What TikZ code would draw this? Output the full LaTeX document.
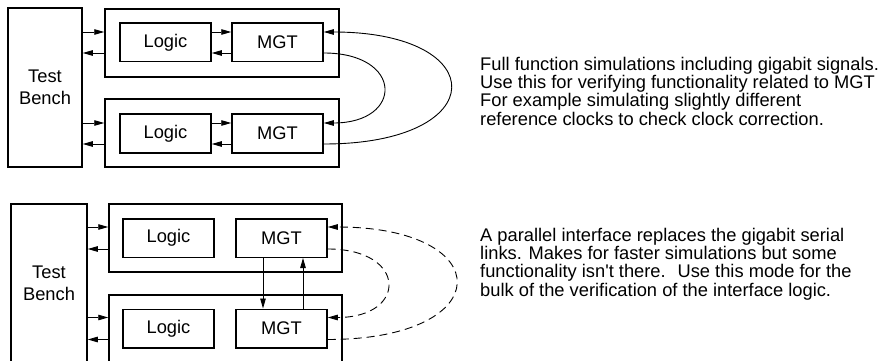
\documentclass[tikz,border=0pt]{standalone}
\usepackage{fontspec}
\setmainfont{Liberation Sans}
\usetikzlibrary{arrows.meta}

\tikzset{
  box/.style={draw, line width=1.5pt, minimum width=91pt, minimum height=38.5pt, inner sep=0pt},
  frame/.style={draw, line width=1.5pt, minimum width=234pt, minimum height=68pt, inner sep=0pt},
  bench/.style={draw, line width=1.5pt, minimum width=74pt, minimum height=159pt, inner sep=0pt,
    align=center, font=\fontsize{18.3}{22.5}\selectfont},
  sig/.style={line width=0.9pt, -{Triangle[length=10pt,width=5.5pt]}},
  link/.style={sig, dash pattern=on 8pt off 5pt},
  note/.style={anchor=base west, align=left, inner sep=0pt}
}

\begin{document}
\begin{tikzpicture}[x=1pt, y=-1pt, font=\fontsize{18.3}{18.1}\selectfont]
\useasboundingbox (0,0) rectangle (879,361);
\clip (0,0) rectangle (879,361);

% full gigabit simulation
\node[bench] (tb1) at (45,87.5) {Test\\Bench};
\node[frame] (top1) at (222,43) {};
\node[frame] (bot1) at (222,133) {};
\node[box] (logic1a) at (165.5,42.5) {Logic};
\node[box] (mgt1a) at (277.5,42.5) {MGT};
\node[box] (logic1b) at (165.5,133.5) {Logic};
\node[box] (mgt1b) at (277.5,133.5) {MGT};

\foreach \f/\l/\m in {top1/logic1a/mgt1a, bot1/logic1b/mgt1b} {
  \draw[sig] ([yshift=10.5pt]tb1.east |- \l) -- ([yshift=10.5pt]\f.west |- \l);
  \draw[sig] ([yshift=-10.5pt]\f.west |- \l) -- ([yshift=-10.5pt]tb1.east |- \l);
  \draw[sig] ([yshift=10.5pt]\l.east) -- ([yshift=10.5pt]\m.west);
  \draw[sig] ([yshift=-10.5pt]\m.west) -- ([yshift=-10.5pt]\l.east);
}

\draw[sig] ([yshift=-10.5pt]mgt1b.east) .. controls +(169,0) and +(169,0) .. ([yshift=10.5pt]mgt1a.east);
\draw[sig] ([yshift=-10.5pt]mgt1a.east) .. controls +(80,0) and +(80,0) .. ([yshift=10.5pt]mgt1b.east);

\node[note] (txt1) at (480,125) {Full function simulations including gigabit signals.\\
  Use this for verifying functionality related to MGT\\
  For example simulating slightly different\\
  reference clocks to check clock correction.};

% parallel interface
\node[bench, minimum width=76pt] (tb2) at (49,283.5) {Test\\Bench};
\node[frame, minimum width=233pt] (top2) at (225.5,238) {};
\node[frame, minimum width=233pt] (bot2) at (225.5,329) {};
\node[box] (logic2a) at (168.5,238) {Logic};
\node[box] (mgt2a) at (281.5,238) {MGT};
\node[box] (logic2b) at (168.5,328.5) {Logic};
\node[box] (mgt2b) at (281.5,328.5) {MGT};

\foreach \f/\l in {top2/logic2a, bot2/logic2b} {
  \draw[sig] ([yshift=11pt]tb2.east |- \l) -- ([yshift=11pt]\f.west |- \l);
  \draw[sig] ([yshift=-11pt]\f.west |- \l) -- ([yshift=-11pt]tb2.east |- \l);
}

\draw[sig] ([xshift=-18.5pt]mgt2a.south) -- ([xshift=-18.5pt]mgt2b.north);
\draw[sig] ([xshift=21.5pt]mgt2b.north) -- ([xshift=21.5pt]mgt2a.south);

\draw[link] ([yshift=-11pt]mgt2b.east) .. controls +(171,0) and +(171,0) .. ([yshift=11pt]mgt2a.east);
\draw[link] ([yshift=-11pt]mgt2a.east) .. controls +(80,0) and +(80,0) .. ([yshift=11pt]mgt2b.east);

\node[note] (txt2) at (480,296) {A parallel interface replaces the gigabit serial\\
  links. Makes for faster simulations but some\\
  functionality isn\textquotesingle t there.~ Use this mode for the\\
  bulk of the verification of the interface logic.};
\end{tikzpicture}
\end{document}
